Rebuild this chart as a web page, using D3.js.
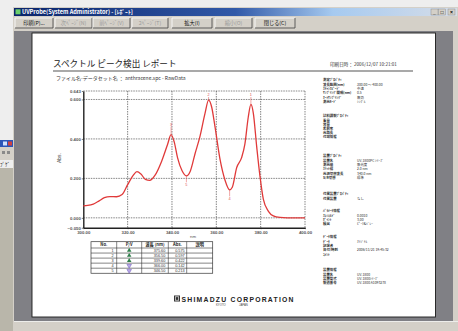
<!DOCTYPE html>
<html>
<head>
<meta charset="utf-8">
<script src="https://cdn.jsdelivr.net/npm/d3@7"></script>
<style>
  html, body { margin: 0; padding: 0; background: #fff; overflow: hidden; }
  svg { display: block; }
</style>
</head>
<body>
<svg id="c" width="458" height="331"></svg>
<script>
// ---- spectrum (anthracene, absorbance vs wavelength) ----
const wavelengths = [300.0, 302.0, 304.5, 307.0, 309.5, 312.0, 315.0, 317.5, 320.0, 322.5,
  324.2, 326.0, 328.0, 330.0, 332.3, 335.3, 338.0, 339.6, 341.0, 342.5,
  344.5, 346.5, 348.3, 350.4, 352.6, 354.9, 356.5, 357.9, 359.4, 361.7,
  363.9, 366.0, 367.2, 369.2, 371.4, 372.9, 374.4, 375.6, 376.7, 378.2,
  379.7, 381.2, 383.5, 385.7, 388.7, 392.0, 400.0];
const absorbance = [0.061, 0.063, 0.070, 0.085, 0.102, 0.108, 0.107, 0.118, 0.168, 0.215,
  0.234, 0.222, 0.195, 0.190, 0.215, 0.286, 0.372, 0.422, 0.385, 0.305,
  0.240, 0.213, 0.238, 0.325, 0.412, 0.530, 0.597, 0.562, 0.462, 0.295,
  0.192, 0.142, 0.155, 0.255, 0.305, 0.375, 0.510, 0.575, 0.530, 0.362,
  0.210, 0.095, 0.033, 0.010, 0.002, 0.000, 0.000];

const xTicks = [300, 320, 340, 360, 380, 400];
const yTicks = [-0.050, 0.000, 0.200, 0.400, 0.600, 0.643];
const xGrid = [320, 340, 360, 380];
const yGrid = [0.000, 0.200, 0.400, 0.600];

// ---- detected peaks / valleys ----
const peakNos = [1, 2, 3, 4, 5];
const peakKinds = ["P", "P", "P", "V", "V"];
const peakWavelengths = [375.6, 356.5, 339.6, 366.0, 346.5];
const peakAbs = [0.575, 0.597, 0.422, 0.142, 0.213];

// ---- report side panel ----
const infoGroups = [
  { head: "測定ﾌﾟﾛﾊﾟﾃｨ", rows: [["波長範囲(nm)", "300.00 ～ 400.00"], ["ｽｷｬﾝｽﾋﾟｰﾄﾞ", "中速"], ["ｻﾝﾌﾟﾘﾝｸﾞ間隔(nm)", "0.5"], ["ｵｰﾄｻﾝﾌﾟﾘﾝｸﾞ", "無効"], ["測光ﾓｰﾄﾞ", "ｼﾝｸﾞﾙ"]] },
  { head: "試料調製ﾌﾟﾛﾊﾟﾃｨ", rows: [["重量", ""], ["容量", ""], ["希釈率", ""], ["光路長", ""], ["付加情報", ""]] },
  { head: "装置ﾌﾟﾛﾊﾟﾃｨ", rows: [["装置名", "UV-1800PC ｼﾘｰｽﾞ"], ["測光値", "吸光度"], ["ｽﾘｯﾄ幅", "2.0 nm"], ["光源切替波長", "340.0 nm"], ["S/R切替", "標準"]] },
  { head: "付属装置ﾌﾟﾛﾊﾟﾃｨ", rows: [["付属装置", "なし"]] },
  { head: "ﾊﾟﾗﾒｰﾀ情報", rows: [["ｽﾚｼｮﾙﾄﾞ", "0.0010"], ["ﾎﾟｲﾝﾄ", "3.00"], ["検出", "ﾋﾟｰｸ&ﾊﾞﾚｰ"]] },
  { head: "ﾃﾞｰﾀ情報", rows: [["ﾃﾞｰﾀ", "ｵﾘｼﾞﾅﾙ"], ["記録者", ""], ["日付/時刻", "2006/11/21 19:45:32"], ["ｺﾒﾝﾄ", ""]] },
  { head: "装置情報", rows: [["装置名", "UV-1800"], ["装置型式", "UV-1800ｼﾘｰｽﾞ"], ["製造番号", "UV-1800 A1093278"]] }
];
const infoHeadY = [81, 116.5, 157, 195, 211.5, 238, 270.5];

const JP = "'Noto Sans CJK JP', 'Noto Sans', sans-serif";
const LAT = "'Liberation Sans', Arial, sans-serif";

const svg = d3.select("#c");

// ---------- desktop + window chrome ----------
svg.append("rect").attr("x", 0).attr("y", 0).attr("width", 458).attr("height", 331).attr("fill", "#eeeeee");
// desktop fragment on the left
svg.append("rect").attr("x", 0).attr("y", 168).attr("width", 13).attr("height", 163).attr("fill", "#b9b6aa");
svg.append("rect").attr("x", 0).attr("y", 140).attr("width", 13).attr("height", 7).attr("fill", "#2a55b8");
svg.append("rect").attr("x", 3).attr("y", 141.5).attr("width", 4).attr("height", 4).attr("fill", "#cfe0ff");
svg.append("rect").attr("x", 8).attr("y", 141.5).attr("width", 4).attr("height", 4).attr("fill", "#d04040");
svg.append("rect").attr("x", 0).attr("y", 147).attr("width", 13).attr("height", 13).attr("fill", "#d4d0c8");
svg.append("rect").attr("x", 2).attr("y", 151).attr("width", 3).attr("height", 3).attr("fill", "#8a8a8a");
svg.append("rect").attr("x", 7).attr("y", 151).attr("width", 3).attr("height", 3).attr("fill", "#8a8a8a");
svg.append("text").attr("x", 0).attr("y", 166).attr("font-size", 5).attr("font-family", JP).attr("fill", "#222").text("ﾌﾟｹﾞ");

// window frame
svg.append("rect").attr("x", 13).attr("y", 7).attr("width", 445).attr("height", 324).attr("fill", "#d4d0c8");
const tg = svg.append("defs").append("linearGradient").attr("id", "tbar").attr("x1", 0).attr("x2", 1);
tg.append("stop").attr("offset", 0).attr("stop-color", "#0a246a");
tg.append("stop").attr("offset", 0.5).attr("stop-color", "#3159a8");
tg.append("stop").attr("offset", 0.72).attr("stop-color", "#a6caf0");
tg.append("stop").attr("offset", 1).attr("stop-color", "#d6dde8");
svg.append("rect").attr("x", 14).attr("y", 8).attr("width", 443).attr("height", 8).attr("fill", "url(#tbar)");
svg.append("rect").attr("x", 15.5).attr("y", 9.3).attr("width", 5).attr("height", 5).attr("fill", "#6bd06b");
svg.append("text").attr("x", 22).attr("y", 14.4).attr("font-size", 5.6).attr("font-weight", "bold")
  .attr("font-family", JP).attr("fill", "#fff").text("UVProbe(System Administrator) - [ﾚﾎﾟｰﾄ]");
// caption buttons
[431, 438.5, 448].forEach((bx, i) => {
  svg.append("rect").attr("x", bx).attr("y", 9).attr("width", 7).attr("height", 6)
    .attr("fill", "#d4d0c8").attr("stroke", "#808080").attr("stroke-width", 0.4);
  svg.append("text").attr("x", bx + 3.5).attr("y", 14).attr("text-anchor", "middle")
    .attr("font-size", 5).attr("font-family", LAT).attr("font-weight", "bold").attr("fill", "#000")
    .text(["_", "□", "×"][i]);
});

// toolbar buttons
const buttons = [
  { t: "印刷(P)...", x0: 15, x1: 53, on: true },
  { t: "次ﾍﾟｰｼﾞ(N)", x0: 55, x1: 92, on: false },
  { t: "前ﾍﾟｰｼﾞ(V)", x0: 93, x1: 130, on: false },
  { t: "2ﾍﾟｰｼﾞ(T)", x0: 132, x1: 168, on: false },
  { t: "拡大(I)", x0: 172, x1: 212, on: true },
  { t: "縮小(O)", x0: 215, x1: 252, on: false },
  { t: "閉じる(C)", x0: 255, x1: 295, on: true }
];
buttons.forEach(b => {
  const w = b.x1 - b.x0;
  svg.append("rect").attr("x", b.x0).attr("y", 18).attr("width", w).attr("height", 10).attr("fill", "#d4d0c8");
  svg.append("path").attr("d", `M${b.x0},28 V18 H${b.x1}`).attr("fill", "none").attr("stroke", "#fff").attr("stroke-width", 0.8);
  svg.append("path").attr("d", `M${b.x0},28 H${b.x1} V18`).attr("fill", "none").attr("stroke", "#404040").attr("stroke-width", 0.8);
  svg.append("text").attr("x", b.x0 + w / 2).attr("y", 25).attr("text-anchor", "middle")
    .attr("font-size", 5.2).attr("font-family", JP).attr("fill", b.on ? "#111" : "#9a9a9a").text(b.t);
});

// preview area
svg.append("rect").attr("x", 14).attr("y", 31).attr("width", 439).attr("height", 290).attr("fill", "#808085");
svg.append("rect").attr("x", 14).attr("y", 321).attr("width", 444).attr("height", 10).attr("fill", "#d4d0c8");
svg.append("line").attr("x1", 14).attr("x2", 458).attr("y1", 321.5).attr("y2", 321.5).attr("stroke", "#f4f4f4").attr("stroke-width", 0.8);

// page
svg.append("rect").attr("x", 32).attr("y", 33).attr("width", 403.5).attr("height", 284)
  .attr("fill", "#fff").attr("stroke", "#1a1a1a").attr("stroke-width", 0.9);

// ---------- report header ----------
svg.append("text").attr("x", 53).attr("y", 67).attr("font-size", 8.6).attr("font-family", JP)
  .attr("fill", "#1a1a1a").text("スペクトル ピーク検出 レポート");
svg.append("line").attr("x1", 53).attr("x2", 413).attr("y1", 71).attr("y2", 71).attr("stroke", "#555").attr("stroke-width", 1.1);
svg.append("text").attr("x", 56).attr("y", 79.5).attr("font-size", 5).attr("font-family", JP)
  .attr("fill", "#333").text("ファイル名-データセット名 ： anthracene.spc - RawData");
svg.append("text").attr("x", 330).attr("y", 66).attr("font-size", 4.6).attr("font-family", JP)
  .attr("fill", "#333").text("印刷日時： 2006/12/07 10:21:01");

// ---------- spectrum plot ----------
const x = d3.scaleLinear().domain([300, 400]).range([83.3, 305]);
const y = d3.scaleLinear().domain([-0.050, 0.643]).range([227.7, 91]);
const plot = svg.append("g");

// frame (top/right dashed, left/bottom solid)
plot.append("line").attr("x1", x(300)).attr("x2", x(400)).attr("y1", y(0.643)).attr("y2", y(0.643))
  .attr("stroke", "#555").attr("stroke-width", 0.7).attr("stroke-dasharray", "1.5,1");
plot.append("line").attr("x1", x(400)).attr("x2", x(400)).attr("y1", y(0.643)).attr("y2", y(-0.050))
  .attr("stroke", "#555").attr("stroke-width", 0.7).attr("stroke-dasharray", "1.5,1");

// grid
plot.selectAll(".gx").data(xGrid).join("line").attr("class", "gx")
  .attr("x1", d => x(d)).attr("x2", d => x(d)).attr("y1", y(0.643)).attr("y2", y(-0.050))
  .attr("stroke", "#333").attr("stroke-width", 0.6).attr("stroke-dasharray", "1.5,1");
plot.selectAll(".gy").data(yGrid).join("line").attr("class", "gy")
  .attr("x1", x(300)).attr("x2", x(400)).attr("y1", d => y(d)).attr("y2", d => y(d))
  .attr("stroke", "#333").attr("stroke-width", 0.6).attr("stroke-dasharray", "1.5,1");

// axes
const yAxis = plot.append("g").attr("transform", `translate(${x(300)},0)`)
  .call(d3.axisLeft(y).tickValues(yTicks).tickFormat(d3.format(".3f")).tickSize(1.5).tickSizeOuter(0));
const xAxis = plot.append("g").attr("transform", `translate(0,${y(-0.050)})`)
  .call(d3.axisBottom(x).tickValues(xTicks).tickFormat(d3.format(".2f")).tickSize(1.5).tickSizeOuter(0));
[yAxis, xAxis].forEach(a => {
  a.select(".domain").attr("stroke", "#222").attr("stroke-width", 1.4);
  a.selectAll(".tick line").attr("stroke", "#222").attr("stroke-width", 0.6);
  a.selectAll("text").attr("font-size", 4.3).attr("font-family", LAT).attr("font-weight", "bold").attr("fill", "#555");
});
yAxis.selectAll("text").attr("x", -2.5);
xAxis.selectAll("text").attr("y", 3);

plot.append("text").attr("transform", `translate(61,158) rotate(-90)`).attr("text-anchor", "middle")
  .attr("font-size", 5).attr("font-family", LAT).attr("fill", "#444").text("Abs.");
plot.append("text").attr("x", 193).attr("y", 238).attr("text-anchor", "middle")
  .attr("font-size", 4.3).attr("font-family", LAT).attr("fill", "#555").text("nm");

// spectrum trace
const pts = wavelengths.map((w, i) => [w, absorbance[i]]);
plot.append("path").datum(pts)
  .attr("d", d3.line().x(d => x(d[0])).y(d => y(d[1])).curve(d3.curveMonotoneX))
  .attr("fill", "none").attr("stroke", "#e03a3a").attr("stroke-width", 1.3).attr("stroke-linejoin", "round");

// peak / valley markers
peakNos.forEach((n, i) => {
  const px = x(peakWavelengths[i]), py = y(peakAbs[i]);
  const up = peakKinds[i] === "P";
  const ly = up ? Math.max(py - 9, y(0.643) + 5) : py + 10;
  plot.append("line").attr("x1", px).attr("x2", px).attr("y1", py).attr("y2", up ? ly + 1 : ly - 3.5)
    .attr("stroke", "#e05050").attr("stroke-width", 0.5);
  plot.append("text").attr("x", px).attr("y", ly).attr("text-anchor", "middle")
    .attr("font-size", 3.8).attr("font-family", LAT).attr("fill", "#e05050").text(n);
});

// ---------- peak table ----------
const colX = [91, 116.7, 141.7, 168.3, 186.7, 212.7];
const tTop = 241.7, headH = 6.3, rowH = 5.05;
const tBottom = tTop + headH + rowH * peakNos.length;
const table = svg.append("g");
table.append("rect").attr("x", colX[0]).attr("y", tTop).attr("width", colX[5] - colX[0]).attr("height", tBottom - tTop)
  .attr("fill", "none").attr("stroke", "#333").attr("stroke-width", 0.7);
colX.slice(1, 5).forEach(cx => table.append("line").attr("x1", cx).attr("x2", cx).attr("y1", tTop).attr("y2", tBottom)
  .attr("stroke", "#333").attr("stroke-width", 0.6));
peakNos.forEach((n, i) => {
  const ry = tTop + headH + rowH * i;
  table.append("line").attr("x1", colX[0]).attr("x2", colX[5]).attr("y1", ry).attr("y2", ry)
    .attr("stroke", "#333").attr("stroke-width", 0.6);
});
const heads = ["No.", "P/V", "波長 (nm)", "Abs.", "説明"];
heads.forEach((h, j) => table.append("text").attr("x", (colX[j] + colX[j + 1]) / 2).attr("y", tTop + 4.6)
  .attr("text-anchor", "middle").attr("font-size", 4.2).attr("font-weight", "bold").attr("font-family", JP)
  .attr("fill", "#222").text(h));
peakNos.forEach((n, i) => {
  const by = tTop + headH + rowH * i + 3.9;
  table.append("text").attr("x", colX[1] - 3).attr("y", by).attr("text-anchor", "end")
    .attr("font-size", 3.8).attr("font-family", LAT).attr("fill", "#333").text(n);
  const mx = (colX[1] + colX[2]) / 2, my = by - 1.4;
  if (peakKinds[i] === "P") {
    table.append("path").attr("d", d3.symbol(d3.symbolTriangle, 9)()).attr("transform", `translate(${mx},${my})`)
      .attr("fill", "#2f7f4a");
  } else {
    table.append("path").attr("d", d3.symbol(d3.symbolTriangle, 9)()).attr("transform", `translate(${mx},${my}) rotate(180)`)
      .attr("fill", "#b8a8e8").attr("stroke", "#6a55b8").attr("stroke-width", 0.5);
  }
  table.append("text").attr("x", colX[3] - 3).attr("y", by).attr("text-anchor", "end")
    .attr("font-size", 3.8).attr("font-family", LAT).attr("fill", "#333").text(peakWavelengths[i].toFixed(2));
  table.append("text").attr("x", colX[4] - 2).attr("y", by).attr("text-anchor", "end")
    .attr("font-size", 3.8).attr("font-family", LAT).attr("fill", "#333").text(peakAbs[i].toFixed(3));
});

// ---------- side panel ----------
const info = svg.append("g").attr("font-family", JP).attr("font-size", 3.4).attr("fill", "#2a2a2a");
infoGroups.forEach((g, gi) => {
  const hy = infoHeadY[gi];
  info.append("text").attr("x", 323).attr("y", hy).attr("font-weight", "bold").text(g.head);
  g.rows.forEach((r, ri) => {
    const ry = hy + 5 + ri * 4.2;
    info.append("text").attr("x", 323).attr("y", ry).attr("font-weight", "bold").text(r[0]);
    if (r[1]) info.append("text").attr("x", 357).attr("y", ry).text(r[1]);
  });
});

// ---------- maker logo ----------
const logo = svg.append("g");
logo.append("rect").attr("x", 174).attr("y", 295.5).attr("width", 6).attr("height", 6).attr("fill", "#333");
logo.append("rect").attr("x", 175.3).attr("y", 296.8).attr("width", 3.4).attr("height", 3.4).attr("fill", "none")
  .attr("stroke", "#fff").attr("stroke-width", 0.6);
logo.append("text").attr("x", 181.5).attr("y", 301.5).attr("font-size", 6.8).attr("font-weight", "bold")
  .attr("font-family", LAT).attr("fill", "#222").attr("textLength", 112).attr("lengthAdjust", "spacing")
  .text("SHIMADZU CORPORATION");
logo.append("text").attr("x", 216).attr("y", 306).attr("font-size", 2.8).attr("font-family", LAT)
  .attr("fill", "#444").text("KYOTO");
logo.append("text").attr("x", 239).attr("y", 306).attr("font-size", 2.8).attr("font-family", LAT)
  .attr("fill", "#444").text("JAPAN");
</script>
</body>
</html>
